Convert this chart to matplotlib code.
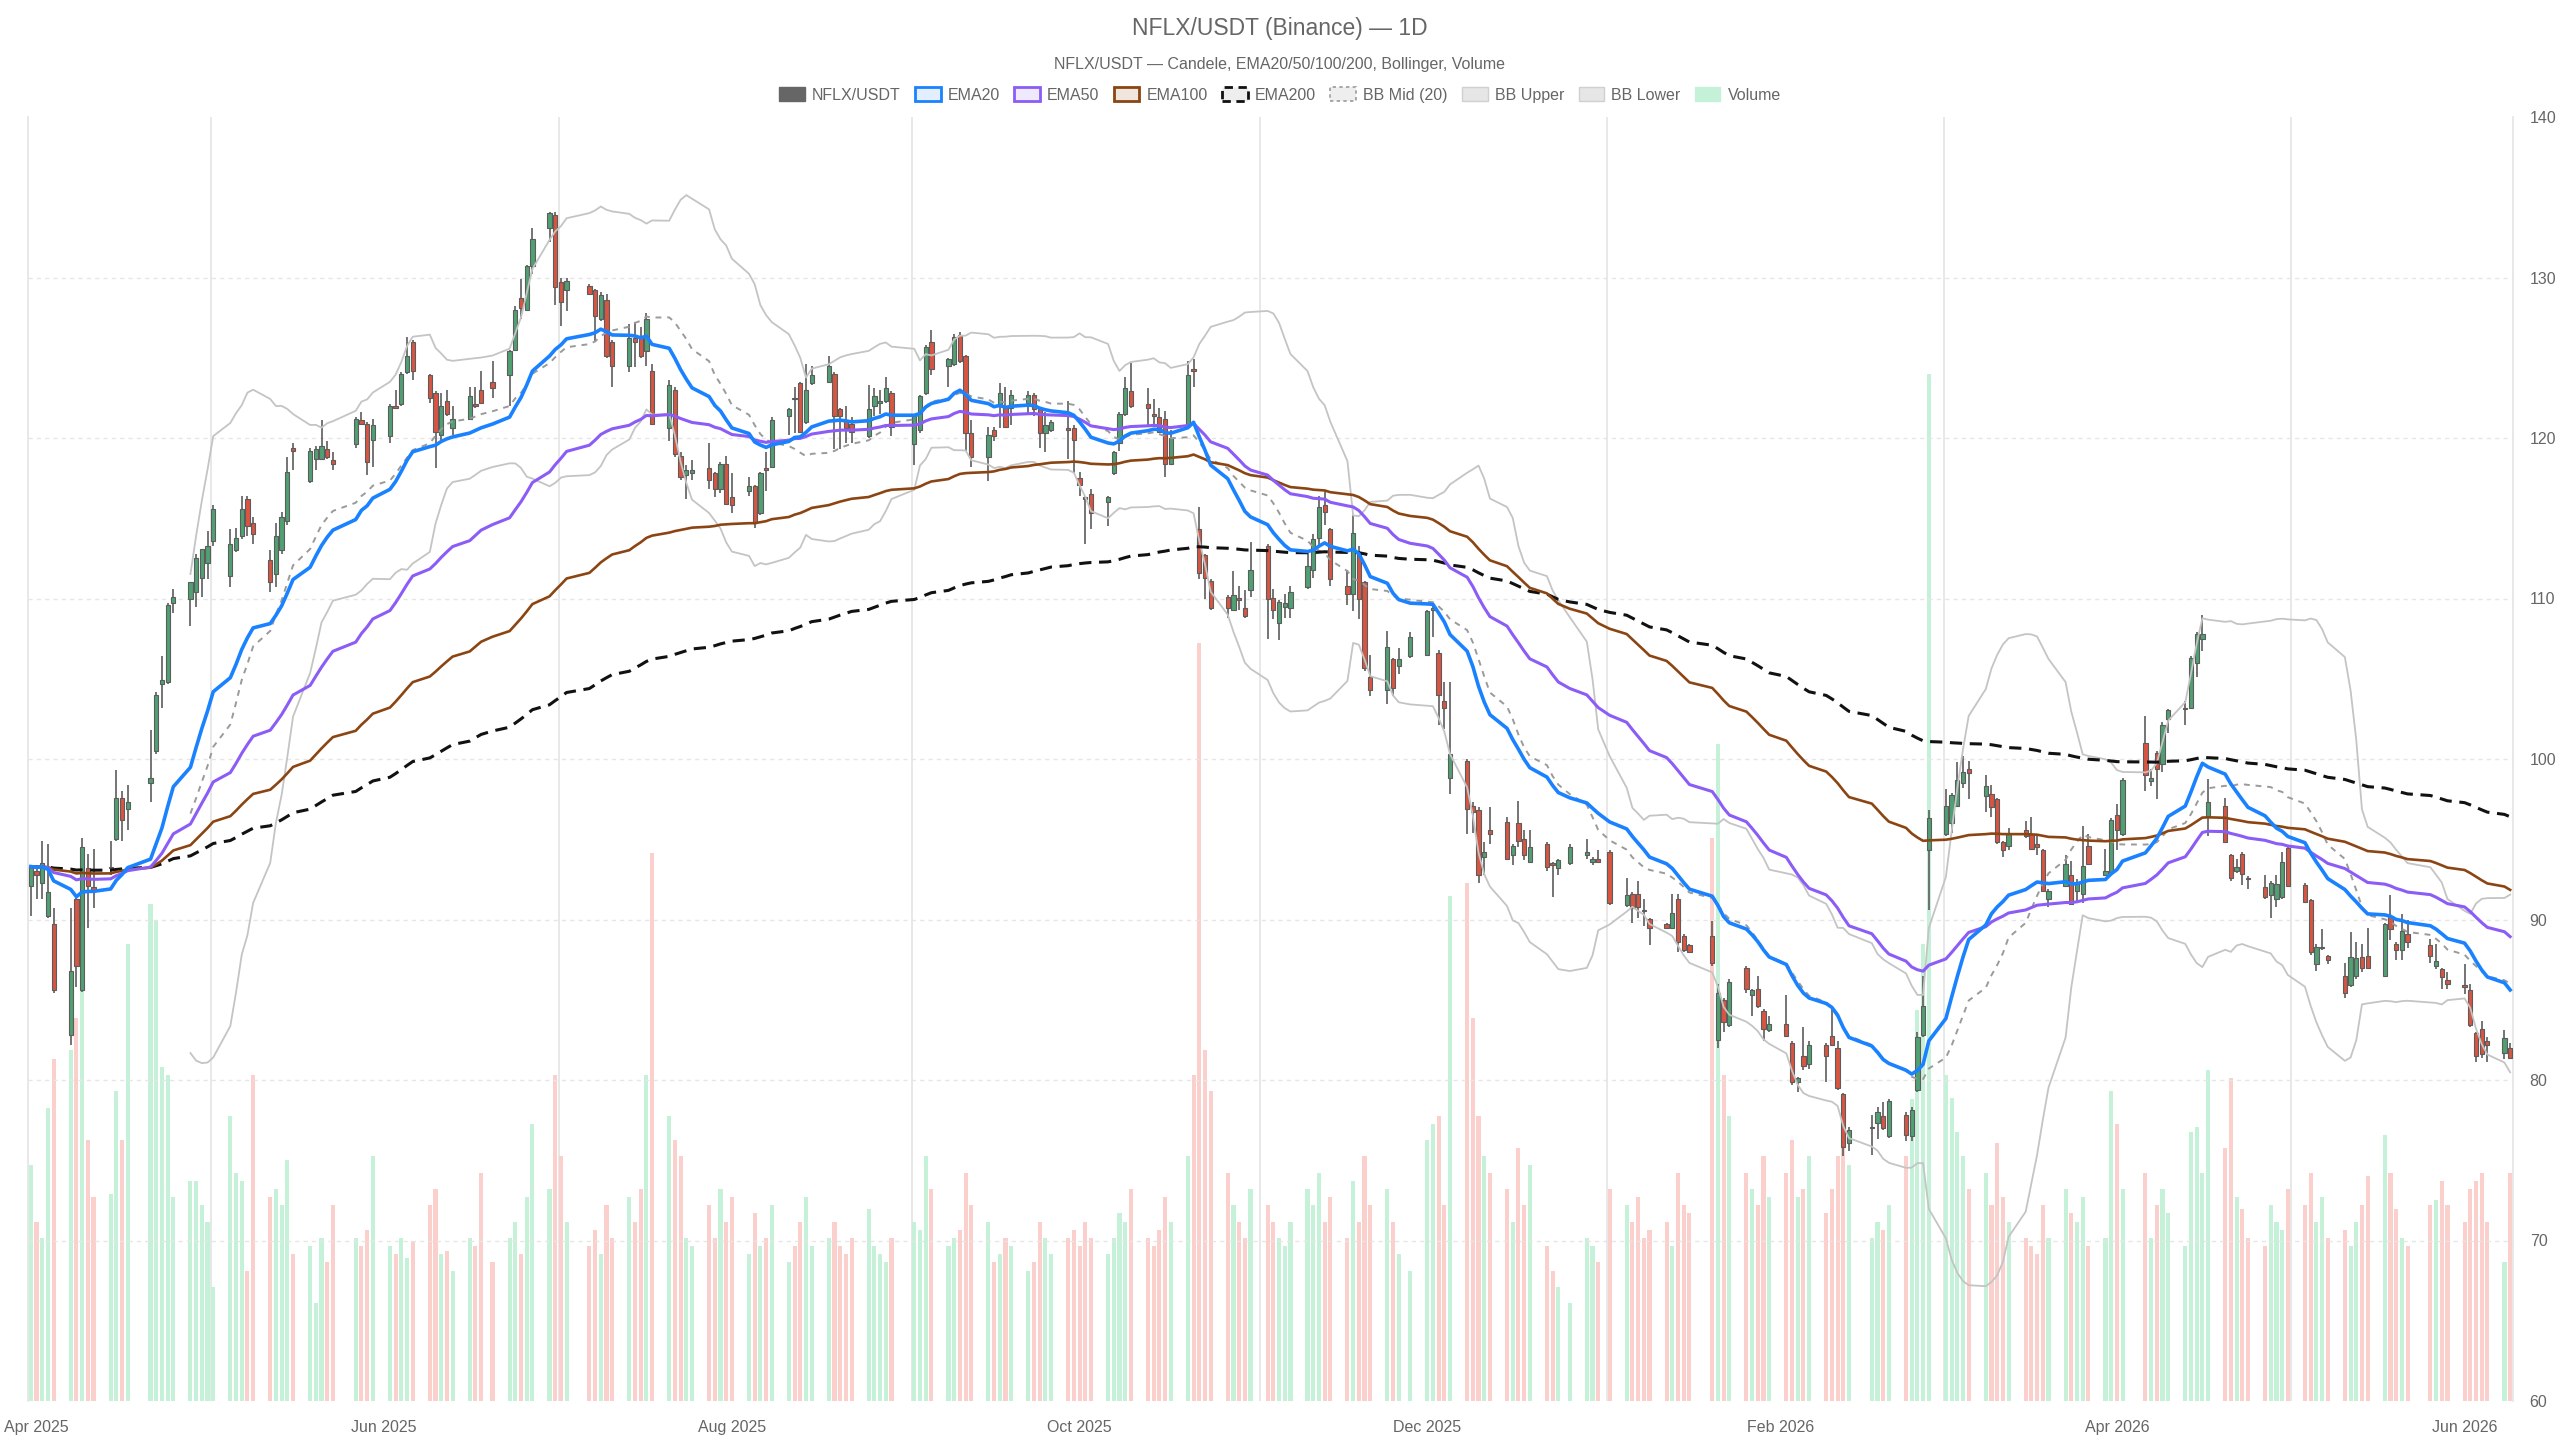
import matplotlib
matplotlib.use("Agg")
import matplotlib.pyplot as plt
from matplotlib.patches import Patch
import numpy as np
import pandas as pd

plt.rcParams['font.family'] = ['Liberation Sans', 'DejaVu Sans']

# trading days (US market calendar)
holidays = ['2025-04-18', '2025-05-26', '2025-06-19', '2025-07-04', '2025-09-01',
            '2025-11-27', '2025-12-25', '2026-01-01', '2026-01-19', '2026-02-16',
            '2026-04-03', '2026-05-25']
dates = pd.bdate_range('2025-03-31', '2026-06-09', freq='C', holidays=holidays)

opens = [
    92.1, 93.0, 92.3, 90.2, 89.7, 82.8, 91.3, 85.6, 93.2, 92.0, 93.2, 95.0, 97.6, 96.9, 98.5, 100.5, 104.7, 104.8, 109.7, 110.0, 110.4, 111.3,
    112.2, 113.6, 111.4, 113.0, 113.9, 116.2, 114.7, 112.4, 111.5, 113.0, 114.8, 119.4, 117.3, 118.7, 118.7, 119.3, 118.6, 119.6, 121.1, 120.9, 119.9,
    120.1, 122.0, 122.1, 124.1, 126.0, 123.9, 122.8, 120.2, 122.3, 120.6, 121.2, 122.1, 123.0, 123.5, 123.9, 125.5, 128.7, 128.0, 130.7, 133.1,
    133.9, 129.7, 129.2, 129.5, 129.2, 127.4, 128.6, 126.0, 124.5, 126.2, 126.2, 125.4, 124.2, 120.6, 123.0, 118.9, 117.7, 117.8, 118.1, 117.8, 116.8, 118.4,
    116.3, 116.7, 117.0, 115.3, 118.1, 118.2, 121.4, 122.5, 123.4, 121.0, 123.4, 123.5, 124.0, 121.8, 121.1, 120.9, 120.1, 122.0, 122.2, 122.3, 122.8,
    119.6, 120.5, 122.8, 126.0, 124.5, 124.6, 126.4, 125.1, 120.3, 118.8, 120.5, 122.0, 122.0, 121.9, 122.2, 122.7, 121.8, 120.3, 120.5, 120.6, 120.6,
    117.5, 116.3, 116.5, 116.0, 117.8, 119.7, 121.5, 122.9, 122.1, 121.5, 121.3, 121.2, 118.4, 120.8, 124.3, 114.3, 112.7, 111.1, 110.1, 109.3, 110.0, 109.4, 110.5,
    113.3, 110.0, 108.5, 109.5, 109.4, 110.7, 111.8, 113.8, 115.8, 114.3, 110.8, 110.3, 112.9, 111.0, 105.1, 104.3, 106.2, 105.8, 106.4,
    106.5, 109.3, 106.6, 103.6, 98.8, 99.9, 97.1, 96.8, 93.9, 95.6, 96.1, 94.0, 96.0, 95.0, 93.6, 94.7, 93.5, 93.2, 93.5, 94.0, 93.6, 93.8,
    94.2, 90.9, 91.6, 91.6, 90.6, 90.0, 89.7, 89.5, 91.3, 89.0, 88.4, 89.0, 82.5, 85.0, 83.4, 87.0, 85.3, 85.7, 84.3, 83.1,
    83.5, 82.3, 79.9, 81.5, 81.0, 82.2, 82.75, 82.0, 79.1, 76.1, 77.0, 77.3, 77.75, 76.5, 77.8, 76.5, 79.4, 82.8, 94.3,
    95.3, 96.0, 97.1, 98.5, 99.4, 97.7, 97.8, 97.5, 94.8, 94.6, 95.6, 95.3, 94.7, 94.35, 91.3, 92.1, 92.8, 91.8, 91.6, 94.6, 92.8, 92.95,
    96.5, 95.3, 101.0, 98.6, 100.4, 99.7, 102.5, 103.1, 103.15, 106.0, 107.5, 96.4, 97.1, 94.0, 93.05, 94.1, 92.6, 92.05, 91.55, 91.3, 91.4,
    94.45, 92.15, 91.2, 87.2, 88.2, 87.75, 86.5, 85.9, 86.5, 87.65, 87.7, 86.5, 90.2, 88.5, 88.1, 89.1, 88.4, 87.1, 86.9, 86.2,
    85.9, 85.6, 82.9, 83.2, 82.4, 81.7, 82.0,
]
highs = [
    93.4, 93.3, 94.9, 94.7, 90.7, 90.7, 91.4, 95.1, 94.1, 94.4, 94.9, 99.3, 98.0, 98.4, 101.8, 104.2, 106.4, 109.7, 110.6, 111.0, 112.8, 113.1,
    114.2, 115.8, 114.3, 114.4, 116.4, 116.4, 115.1, 113.0, 114.7, 115.4, 118.8, 119.7, 119.4, 119.5, 121.1, 119.8, 119.1, 121.3, 121.6, 121.0, 121.2,
    122.1, 123.0, 124.1, 126.3, 126.1, 124.0, 122.9, 122.8, 123.0, 122.0, 123.2, 123.2, 124.2, 124.8, 125.5, 128.2, 129.9, 130.8, 133.1, 134.1,
    134.1, 130.0, 130.0, 129.6, 129.3, 129.1, 129.0, 126.1, 127.1, 127.2, 126.9, 127.8, 124.6, 123.6, 123.2, 119.1, 118.3, 118.6, 119.7, 117.9, 118.5, 118.9,
    117.8, 117.6, 117.1, 117.9, 119.1, 121.3, 121.9, 123.2, 123.5, 124.6, 124.5, 125.1, 124.1, 121.9, 122.0, 121.3, 123.3, 123.1, 123.0, 123.8, 122.9,
    121.5, 122.7, 125.8, 126.7, 125.0, 126.5, 126.6, 125.2, 121.1, 120.7, 120.7, 123.4, 123.2, 123.0, 122.9, 122.8, 121.9, 121.6, 121.1, 122.3, 120.8,
    117.9, 116.4, 116.8, 116.4, 119.2, 121.6, 123.8, 124.7, 123.1, 122.4, 121.9, 121.7, 120.5, 124.8, 124.9, 115.7, 112.8, 111.2, 110.2, 111.7, 110.8, 110.5, 113.5,
    113.4, 110.6, 109.9, 110.3, 110.8, 112.9, 114.0, 116.4, 116.7, 114.4, 111.8, 115.2, 113.3, 111.1, 106.5, 108.0, 106.3, 106.9, 107.9,
    109.3, 109.7, 106.8, 104.8, 104.8, 100.0, 97.3, 97.0, 94.8, 97.0, 96.4, 94.7, 97.4, 95.6, 95.6, 94.8, 93.6, 93.8, 94.7, 95.0, 93.9, 94.3,
    94.3, 92.6, 91.7, 92.4, 91.25, 90.1, 89.8, 91.6, 91.6, 89.1, 88.5, 89.9, 86.0, 85.1, 86.3, 87.1, 85.7, 86.5, 84.4, 84.0,
    85.3, 82.4, 80.2, 83.3, 82.4, 82.3, 84.6, 82.4, 79.2, 77.1, 77.8, 78.3, 78.6, 78.8, 78.0, 78.3, 83.0, 86.5, 96.8,
    98.1, 97.9, 99.8, 100.2, 99.9, 99.0, 98.4, 97.6, 94.9, 95.7, 96.15, 96.4, 95.3, 94.4, 91.9, 94.0, 93.65, 92.5, 95.8, 95.3, 94.4, 96.3,
    97.2, 98.8, 102.7, 99.4, 100.5, 102.3, 103.1, 103.6, 106.4, 107.9, 109.0, 98.75, 97.6, 94.1, 93.8, 94.2, 92.7, 92.8, 92.4, 92.8, 94.2,
    94.6, 92.3, 91.3, 88.5, 89.4, 87.8, 87.3, 89.2, 88.6, 88.5, 89.5, 89.8, 91.5, 88.6, 90.35, 90.0, 88.8, 88.5, 87.0, 86.7,
    87.2, 86.0, 83.0, 83.7, 82.7, 83.1, 82.3,
]
lows = [
    90.2, 91.3, 91.3, 90.1, 85.4, 82.2, 85.8, 85.5, 89.5, 90.7, 92.8, 94.9, 94.9, 95.6, 97.3, 100.3, 103.2, 104.7, 109.1, 108.3, 109.5, 110.1,
    111.2, 113.3, 110.7, 112.9, 113.7, 113.9, 113.4, 110.4, 110.7, 112.8, 114.6, 118.0, 117.2, 118.0, 118.6, 118.7, 118.0, 119.4, 120.8, 117.7, 118.2,
    119.7, 121.8, 122.0, 124.0, 123.6, 122.2, 118.1, 119.7, 121.4, 120.2, 121.1, 121.9, 122.1, 122.5, 122.0, 125.4, 127.4, 127.9, 130.2, 132.2,
    128.3, 127.0, 127.9, 128.9, 126.0, 127.3, 125.0, 123.2, 124.1, 124.4, 125.0, 124.5, 120.8, 119.8, 118.8, 117.4, 116.2, 117.4, 116.8, 116.3, 116.6, 115.8,
    115.3, 116.4, 114.4, 115.2, 116.7, 118.1, 120.2, 120.3, 120.3, 120.9, 123.3, 123.4, 119.3, 119.3, 119.7, 119.7, 120.0, 121.4, 121.5, 122.2, 120.1,
    118.3, 120.3, 122.7, 123.9, 123.2, 124.5, 124.7, 119.2, 118.2, 117.3, 119.8, 120.6, 120.6, 120.8, 121.5, 121.4, 119.4, 119.1, 120.4, 118.7, 117.8,
    116.4, 113.4, 114.3, 114.5, 117.7, 119.2, 121.4, 121.9, 120.8, 120.7, 120.3, 117.6, 118.3, 120.7, 123.2, 111.2, 110.0, 109.3, 108.8, 109.2, 109.3, 108.8, 110.1,
    107.5, 108.7, 107.4, 108.8, 108.8, 110.6, 111.3, 113.3, 114.6, 110.8, 109.6, 109.2, 108.7, 105.5, 103.9, 103.4, 103.9, 105.3, 106.3,
    106.4, 107.6, 102.1, 101.9, 97.8, 95.3, 95.4, 92.3, 92.8, 94.7, 93.7, 93.4, 94.5, 93.7, 93.5, 93.0, 91.4, 92.75, 93.4, 93.75, 93.4, 93.5,
    90.9, 90.8, 89.8, 90.1, 89.6, 88.4, 89.4, 89.4, 88.0, 88.0, 87.9, 87.1, 82.0, 83.0, 83.3, 85.4, 84.0, 84.5, 82.4, 83.0,
    82.7, 79.7, 79.25, 80.6, 80.7, 79.9, 82.1, 79.4, 75.25, 75.6, 75.3, 76.3, 76.9, 76.4, 76.2, 76.2, 79.25, 82.7, 90.6,
    95.2, 95.4, 97.0, 98.2, 97.5, 96.7, 96.4, 94.7, 93.9, 94.35, 95.1, 94.3, 94.0, 91.7, 90.75, 92.0, 90.9, 91.0, 91.05, 93.4, 92.7, 92.9,
    94.35, 95.2, 98.0, 98.3, 97.5, 99.2, 101.6, 102.1, 103.1, 105.1, 106.7, 95.2, 94.8, 92.4, 92.9, 92.15, 91.9, 91.3, 90.1, 90.8, 91.3,
    92.0, 91.0, 87.8, 86.8, 88.1, 87.2, 85.1, 85.8, 86.3, 86.75, 86.9, 86.4, 88.75, 87.5, 87.5, 88.2, 87.3, 86.9, 85.7, 85.7,
    85.35, 83.3, 81.1, 81.4, 81.1, 81.3, 81.3,
]
closes = [
    93.3, 92.8, 93.5, 91.7, 85.6, 86.8, 87.1, 94.5, 92.1, 91.8, 93.3, 97.6, 96.2, 97.3, 98.8, 104.0, 104.9, 109.6, 110.1, 111.0, 112.5, 113.1,
    113.3, 115.6, 113.4, 113.8, 115.6, 114.5, 114.0, 111.0, 113.9, 115.1, 117.9, 119.2, 119.2, 119.3, 119.5, 118.8, 118.4, 121.2, 120.9, 118.5, 120.8,
    122.0, 121.9, 124.0, 125.1, 124.2, 122.5, 120.4, 122.0, 121.5, 121.2, 122.6, 122.0, 122.2, 123.1, 125.4, 128.0, 128.1, 130.7, 132.4, 134.0,
    129.4, 128.5, 129.8, 129.0, 127.6, 128.9, 125.1, 124.5, 126.2, 126.0, 125.1, 127.4, 120.9, 123.3, 119.0, 117.6, 118.0, 118.0, 117.4, 116.8, 118.4, 115.9,
    115.8, 117.0, 114.7, 117.8, 118.0, 121.1, 121.8, 122.4, 120.4, 123.0, 123.9, 124.5, 121.4, 121.4, 120.6, 120.4, 121.8, 122.6, 122.3, 123.1, 120.7,
    121.4, 122.6, 125.7, 124.3, 124.9, 126.3, 124.8, 120.3, 118.8, 120.2, 120.1, 122.8, 120.7, 122.7, 122.7, 121.8, 120.3, 120.8, 121.0, 120.5, 119.9,
    117.1, 116.2, 115.3, 116.3, 119.1, 121.5, 123.1, 122.0, 121.9, 121.4, 120.4, 118.4, 120.0, 123.9, 124.2, 111.6, 111.3, 109.4, 109.4, 110.2, 109.9, 108.9, 111.8,
    110.0, 109.3, 109.8, 109.7, 110.4, 112.0, 113.7, 115.7, 115.4, 111.2, 110.3, 114.1, 110.0, 105.7, 104.3, 107.0, 104.4, 106.2, 107.6,
    109.2, 109.4, 104.0, 103.2, 100.3, 96.9, 96.7, 92.8, 94.2, 95.3, 93.8, 94.6, 94.9, 94.0, 94.5, 93.3, 93.4, 93.7, 94.5, 94.2, 93.8, 93.6,
    91.0, 91.5, 90.7, 90.8, 90.5, 89.5, 89.5, 90.4, 88.6, 88.1, 88.0, 87.3, 85.4, 83.6, 86.1, 85.7, 85.6, 84.6, 83.2, 83.5,
    82.75, 79.9, 80.1, 80.9, 82.2, 81.5, 82.2, 79.5, 75.8, 76.9, 77.05, 78.0, 77.0, 78.7, 76.6, 78.1, 82.7, 84.6, 96.3,
    97.1, 97.75, 98.7, 99.2, 99.1, 98.3, 97.0, 94.8, 94.3, 95.3, 95.2, 94.4, 94.5, 91.8, 91.8, 93.45, 90.95, 92.3, 93.35, 93.45, 93.0, 96.2,
    95.6, 98.7, 99.0, 98.8, 99.4, 102.1, 103.05, 103.2, 106.3, 107.8, 107.8, 97.3, 94.85, 92.6, 93.25, 92.85, 92.5, 91.4, 92.3, 92.2, 93.6,
    92.1, 91.1, 88.0, 88.3, 88.3, 87.5, 85.4, 87.65, 87.6, 86.95, 87.0, 89.7, 89.4, 88.1, 89.3, 88.6, 87.7, 87.4, 86.4, 86.0,
    85.8, 83.4, 81.5, 81.6, 82.2, 82.6, 81.4,
]
volumes = [
    145, 110, 100, 180, 210, 215, 235, 280, 160, 125, 127, 190, 160, 280, 305, 295, 205, 200, 125, 135, 135, 120,
    110, 70, 175, 140, 135, 80, 200, 125, 130, 120, 148, 90, 95, 60, 100, 85, 120, 100, 95, 105, 150,
    95, 90, 100, 88, 98, 120, 130, 90, 92, 80, 100, 95, 140, 85, 100, 110, 90, 125, 170, 130,
    200, 150, 110, 95, 105, 90, 120, 100, 125, 110, 130, 200, 336, 175, 160, 150, 100, 95, 120, 100, 130, 110,
    125, 90, 115, 95, 100, 120, 85, 95, 110, 125, 95, 100, 110, 95, 90, 100, 118, 95, 90, 85, 100,
    110, 105, 150, 130, 95, 100, 105, 140, 120, 110, 85, 90, 100, 95, 80, 85, 110, 100, 90, 100, 105,
    95, 110, 100, 90, 100, 115, 110, 130, 100, 95, 105, 125, 110, 150, 200, 465, 215, 190, 140, 120, 110, 100, 130,
    120, 110, 100, 95, 110, 130, 120, 140, 110, 125, 100, 135, 110, 150, 120, 130, 110, 90, 80,
    160, 170, 175, 120, 310, 318, 235, 175, 150, 140, 130, 110, 155, 120, 145, 95, 80, 70, 60, 100, 95, 85,
    130, 120, 110, 125, 100, 105, 110, 95, 140, 120, 115, 345, 403, 200, 175, 140, 130, 120, 150, 125,
    140, 160, 125, 130, 150, 115, 130, 150, 175, 145, 100, 110, 105, 120, 150, 185, 240, 280, 630,
    200, 186, 165, 150, 130, 140, 120, 158, 125, 110, 100, 95, 90, 120, 100, 130, 115, 110, 125, 95, 100, 190,
    170, 130, 140, 100, 120, 130, 115, 95, 165, 168, 140, 203, 155, 198, 125, 118, 100, 95, 120, 110, 105,
    130, 120, 140, 110, 125, 100, 105, 95, 110, 120, 138, 163, 140, 118, 100, 95, 120, 123, 135, 120,
    110, 130, 135, 140, 110, 85, 140,
]

o = np.array(opens); h = np.array(highs); l = np.array(lows); c = np.array(closes)
v = np.array(volumes, dtype=float)
x = np.asarray((dates - dates[0]).days, dtype=float)

s = pd.Series(c)
ema20 = s.ewm(span=20, adjust=False).mean()
ema50 = s.ewm(span=50, adjust=False).mean()
ema100 = s.ewm(span=100, adjust=False).mean()
ema200 = s.ewm(span=200, adjust=False).mean()
bb_mid = s.rolling(20).mean()
bb_sd = s.rolling(20).std(ddof=0)
bb_up = bb_mid + 2 * bb_sd
bb_lo = bb_mid - 2 * bb_sd

UP = '#50a073'
DOWN = '#d75541'
EDGE = '#5c5c5c'
TXT = '#666666'

fig = plt.figure(figsize=(25.6, 14.4), dpi=100)
rect = [28 / 2560, 1 - 1401 / 1440, (2513 - 28) / 2560, (1401 - 117) / 1440]
axv = fig.add_axes(rect)
ax = fig.add_axes(rect, sharex=axv)
ax.patch.set_alpha(0)

# volume
up = c >= o
vcol = np.where(up, '#c6f1d9', '#fbcfcc')
axv.bar(x, v, width=0.72, color=vcol, zorder=2)
axv.set_ylim(0, v.max() / 0.8)
axv.set_yticks([])
axv.tick_params(axis='x', length=0, labelbottom=False)
for sp in axv.spines.values():
    sp.set_visible(False)

# gridlines
start = dates[0]
months = pd.date_range('2025-04-01', '2026-06-01', freq='MS')
mday = np.array([(m - start).days for m in months], dtype=float)
for i, m in enumerate(months):
    if m.month % 2 == 1:
        axv.axvline(mday[i] + 0.6, color='#e4e4e4', lw=1.2, zorder=1)
for yv in range(70, 140, 10):
    ax.axhline(yv, color='#e6e6e6', lw=1, ls=(0, (3, 3)), zorder=0)

# candles
ax.vlines(x, l, h, color=EDGE, lw=1.2, zorder=3)
body = np.maximum(np.abs(c - o), 0.07)
ax.bar(x, body, bottom=np.minimum(o, c), width=0.75, color=np.where(up, UP, DOWN),
       edgecolor=EDGE, linewidth=0.8, zorder=4)

# overlays
ax.plot(x, bb_up, color='#c4c4c4', lw=1.3, zorder=5)
ax.plot(x, bb_lo, color='#c4c4c4', lw=1.3, zorder=5)
ax.plot(x, bb_mid, color='#9a9a9a', lw=1.4, ls=(0, (3, 3)), zorder=5)
ax.plot(x, ema200, color='#111111', lw=2.2, ls=(0, (4, 2.5)), zorder=6)
ax.plot(x, ema100, color='#8b4513', lw=1.9, zorder=6)
ax.plot(x, ema50, color='#8b5cf6', lw=2.2, zorder=6)
ax.plot(x, ema20, color='#1a82ff', lw=2.6, zorder=7)

ax.set_xlim(-0.5, x[-1] + 0.5)
ax.set_ylim(60, 140)
ax.yaxis.tick_right()
ax.set_yticks(range(60, 141, 10))
ax.tick_params(axis='y', length=0, pad=12, labelsize=11.5, labelcolor=TXT)
lab_pos = [mday[i] for i, m in enumerate(months) if m.month % 2 == 0]
lab_txt = [m.strftime('%b %Y') for m in months if m.month % 2 == 0]
ax.set_xticks(lab_pos)
ax.set_xticklabels(lab_txt)
ax.tick_params(axis='x', length=0, pad=14, labelsize=11.5, labelcolor=TXT)
for sp in ['top', 'bottom']:
    ax.spines[sp].set_visible(False)
for sp in ['left', 'right']:
    ax.spines[sp].set_color('#e4e4e4')
    ax.spines[sp].set_linewidth(1.2)

fig.text(0.5, 1 - 28 / 1440, 'NFLX/USDT (Binance) \u2014 1D', ha='center', va='center',
         fontsize=16.5, color=TXT)
fig.text(0.5, 1 - 64 / 1440, 'NFLX/USDT \u2014 Candele, EMA20/50/100/200, Bollinger, Volume',
         ha='center', va='center', fontsize=11.5, color=TXT)

handles = [
    Patch(facecolor='#666666', edgecolor='#666666', label='NFLX/USDT'),
    Patch(facecolor='#e3efff', edgecolor='#1a82ff', lw=2, label='EMA20'),
    Patch(facecolor='#efe9fe', edgecolor='#8b5cf6', lw=2, label='EMA50'),
    Patch(facecolor='#f1e6dd', edgecolor='#8b4513', lw=2, label='EMA100'),
    Patch(facecolor='#eeeeee', edgecolor='#111111', lw=2, ls=(0, (3, 2)), label='EMA200'),
    Patch(facecolor='#eeeeee', edgecolor='#9a9a9a', lw=1.2, ls=(0, (2, 2)), label='BB Mid (20)'),
    Patch(facecolor='#e6e6e6', edgecolor='#d0d0d0', lw=1, label='BB Upper'),
    Patch(facecolor='#e6e6e6', edgecolor='#d0d0d0', lw=1, label='BB Lower'),
    Patch(facecolor='#c6f1d9', edgecolor='#c6f1d9', label='Volume'),
]
leg = fig.legend(handles=handles, loc='center', bbox_to_anchor=(0.5, 1 - 95 / 1440), ncol=9,
                 frameon=False, fontsize=11.5, handlelength=1.6, handleheight=1.0,
                 handletextpad=0.45, columnspacing=0.9)
for t in leg.get_texts():
    t.set_color(TXT)

fig.savefig('out.png', dpi=100)
